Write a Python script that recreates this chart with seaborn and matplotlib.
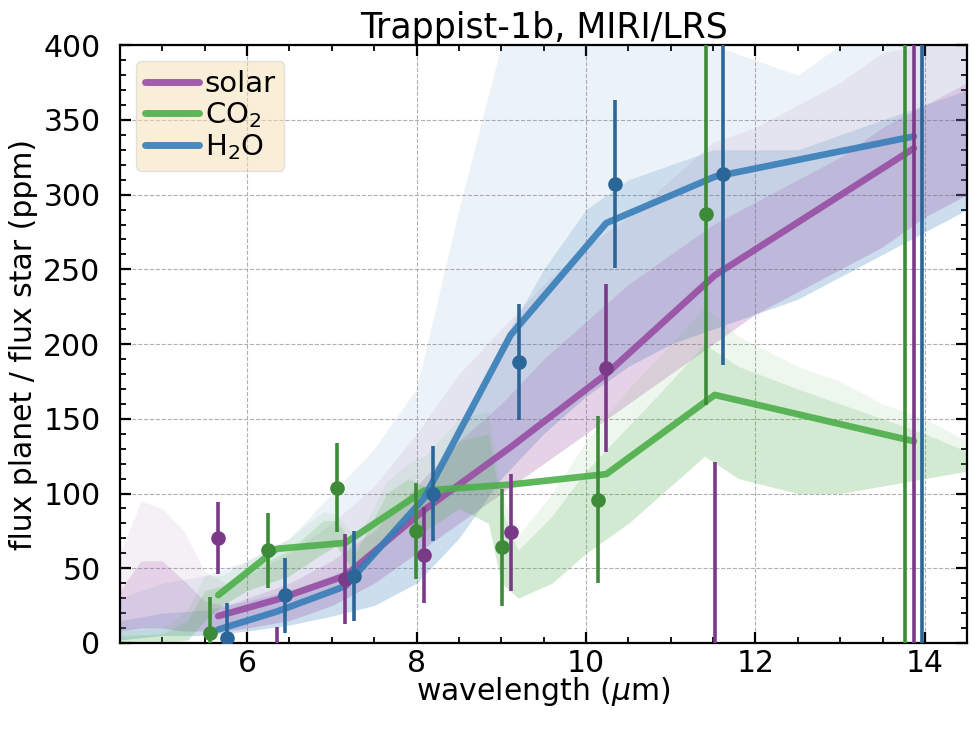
import matplotlib
matplotlib.use("Agg")
import numpy as np
import pandas as pd
import matplotlib.pyplot as plt
from matplotlib.ticker import MultipleLocator
import seaborn as sns

# ---------------------------------------------------------------------------
# Data
# ---------------------------------------------------------------------------
atmospheres = ["solar", "CO$_2$", "H$_2$O"]

# centres of the LRS wavelength bins (micron)
bin_wl = [5.66, 6.35, 7.16, 8.09, 9.11, 10.24, 11.52, 13.87]

# binned model eclipse depths (ppm)
model_solar = [18, 29, 45, 89, 131, 180, 246, 331]
model_co2 = [32, 63, 67, 102, 106, 113, 166, 135]
model_h2o = [9, 21, 38, 97, 206, 281, 312, 339]

# simulated measurements and their 1-sigma uncertainties (ppm)
obs_solar = [70, -14, 43, 59, 74, 184, -7, 520]
obs_co2 = [7, 62, 104, 75, 64, 96, 287, -150]
obs_h2o = [3, 32, 45, 100, 188, 307, 314, 460]
obs_err = [24, 25, 30, 32, 39, 56, 128, 700]
obs_shift = [0.0, -0.1, 0.1]

# high-resolution model spectra, summarised as envelopes (ppm)
solar_wl = [4.5, 4.75, 5.0, 5.25, 5.5, 5.75, 6.0, 6.5, 7.0, 7.5, 8.0, 8.5, 9.0,
            9.5, 10.0, 10.5, 11.0, 11.5, 12.0, 12.5, 13.0, 13.5, 14.0, 14.5]
solar_lo = [8, 10, 10, 8, 8, 8, 10, 15, 25, 40, 60, 80, 100,
            120, 140, 160, 180, 200, 220, 235, 250, 265, 285, 300]
solar_core = [35, 55, 55, 42, 28, 25, 30, 40, 55, 75, 105, 135, 160,
              190, 215, 240, 260, 280, 295, 310, 325, 345, 360, 375]
solar_peak = [60, 95, 90, 75, 48, 40, 45, 60, 80, 105, 140, 180, 210,
              240, 265, 285, 310, 335, 345, 360, 375, 395, 400, 400]

co2_wl = [4.5, 5.0, 5.3, 5.5, 5.7, 6.0, 6.5, 6.9, 7.05, 7.3, 7.65, 7.9, 8.1,
          8.5, 8.85, 9.0, 9.2, 9.6, 10.0, 10.5, 11.0, 11.4, 11.8, 12.5, 13.0,
          13.5, 14.0, 14.5]
co2_lo = [0, 0, 2, 15, 25, 35, 45, 60, 65, 45, 70, 80, 75,
          90, 80, 40, 30, 40, 60, 80, 105, 125, 110, 100, 100,
          105, 110, 115]
co2_core = [5, 6, 15, 35, 38, 48, 62, 82, 82, 62, 100, 110, 105,
            135, 140, 90, 62, 85, 115, 145, 175, 200, 185, 170, 160,
            150, 140, 128]
co2_peak = [8, 10, 22, 45, 45, 55, 70, 88, 86, 70, 108, 120, 125,
            150, 155, 100, 72, 100, 135, 170, 200, 225, 205, 185, 175,
            160, 150, 135]

h2o_wl = [4.5, 5.0, 5.5, 6.0, 6.5, 7.0, 7.5, 8.0, 8.5, 9.0, 9.5, 10.0, 10.5,
          11.0, 11.5, 12.0, 12.5, 13.0, 13.5, 14.0, 14.5]
h2o_lo = [2, 5, 5, 8, 12, 18, 25, 40, 70, 110, 140, 165, 185,
          200, 210, 220, 230, 245, 260, 275, 290]
h2o_core = [15, 20, 22, 28, 35, 45, 60, 90, 140, 200, 250, 290, 310,
            320, 330, 330, 330, 340, 350, 360, 370]
h2o_peak = [30, 40, 45, 55, 70, 100, 130, 170, 290, 400, 400, 400, 400,
            400, 400, 390, 380, 400, 400, 400, 400]

line_colors = ["#984ea3", "#4daf4a", "#377eb8"]
dot_colors = ["#7a3a88", "#3d8b38", "#2b6699"]

# ---------------------------------------------------------------------------
# Figure
# ---------------------------------------------------------------------------
sns.set_style("ticks")
plt.rcParams["font.family"] = ["DejaVu Sans"]
plt.rcParams["mathtext.fontset"] = "dejavusans"
plt.rcParams["text.color"] = "black"
plt.rcParams["axes.labelcolor"] = "black"

fig, ax = plt.subplots(figsize=(9.8, 7.29), dpi=100)
fig.subplots_adjust(left=0.1224, right=0.987, bottom=0.118, top=0.938)

# spectra as translucent bands
spectra = [
    (h2o_wl, h2o_lo, h2o_core, h2o_peak, line_colors[2]),
    (solar_wl, solar_lo, solar_core, solar_peak, line_colors[0]),
    (co2_wl, co2_lo, co2_core, co2_peak, line_colors[1]),
]
for wl, lo, core, peak, col in spectra:
    ax.fill_between(wl, lo, core, color=col, alpha=0.25, lw=0, zorder=1)
    ax.fill_between(wl, core, peak, color=col, alpha=0.09, lw=0, zorder=1)

# binned models
models = pd.DataFrame({
    "wl": bin_wl * 3,
    "depth": model_solar + model_co2 + model_h2o,
    "atmosphere": [a for a in atmospheres for _ in bin_wl],
})
sns.lineplot(data=models, x="wl", y="depth", hue="atmosphere",
             hue_order=atmospheres, palette=line_colors, estimator=None,
             sort=False, lw=4.8, alpha=0.9, ax=ax, zorder=4)

# simulated observations
for obs, shift, col in zip([obs_solar, obs_co2, obs_h2o], obs_shift, dot_colors):
    ax.errorbar(np.array(bin_wl) + shift, obs, yerr=obs_err, fmt="o",
                color=col, ms=9.5, elinewidth=2.6, capsize=0, zorder=5)

ax.set_xlim(4.5, 14.5)
ax.set_ylim(0, 400)
ax.xaxis.set_major_locator(MultipleLocator(2))
ax.xaxis.set_minor_locator(MultipleLocator(0.5))
ax.yaxis.set_major_locator(MultipleLocator(50))
ax.yaxis.set_minor_locator(MultipleLocator(10))
ax.tick_params(which="both", direction="in", top=True, right=True,
               labelsize=21.5, colors="black", labelcolor="black")
ax.tick_params(which="major", length=8, width=1.6)
ax.tick_params(axis="x", which="major", pad=4)
ax.tick_params(axis="y", which="major", pad=14)
ax.tick_params(which="minor", length=4.5, width=1.3)
for sp in ax.spines.values():
    sp.set_linewidth(1.6)
    sp.set_color("black")
ax.grid(True, which="major", ls="--", color="#b0b0b0", lw=0.8)
ax.set_axisbelow(True)

ax.set_xlabel("wavelength ($\\mu$m)", fontsize=21.5, labelpad=-2)
ax.set_ylabel("flux planet / flux star (ppm)", fontsize=21.5, labelpad=4)
ax.set_title("Trappist-1b, MIRI/LRS", fontsize=25, pad=3)

leg = ax.legend(loc="upper left", fontsize=21, facecolor="wheat",
                framealpha=0.5, handlelength=1.85, handletextpad=0.2,
                labelspacing=0.08, borderpad=0.3, borderaxespad=0.55,
                title=None)
for h in leg.get_lines():
    h.set_linewidth(5)

fig.savefig("out.png", dpi=100)
